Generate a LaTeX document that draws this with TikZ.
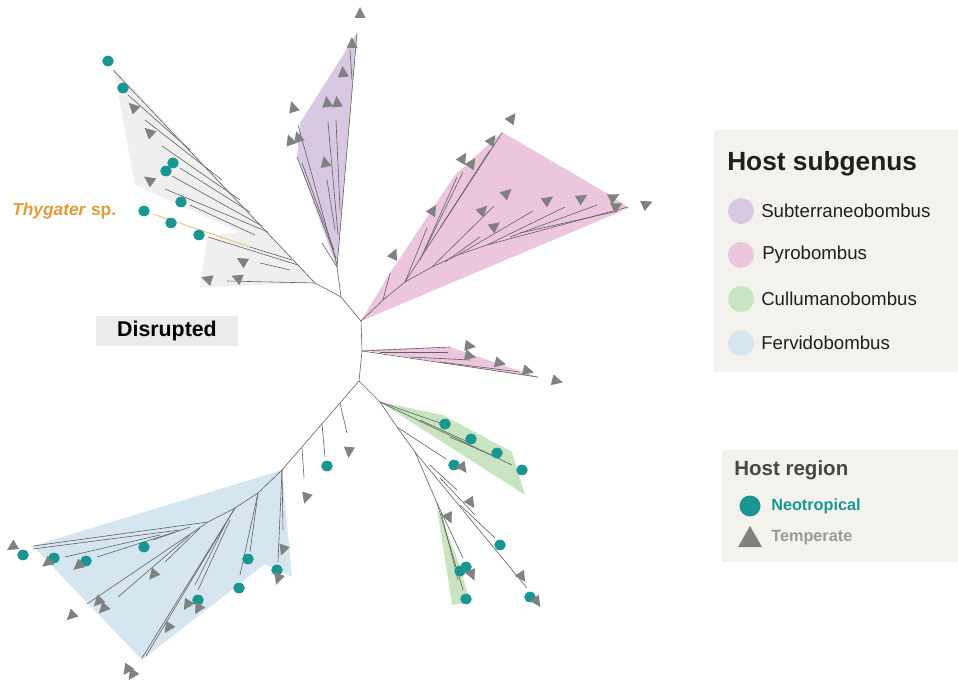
\documentclass[tikz,border=0pt]{standalone}
\usepackage{fontspec}
\setmainfont{Liberation Sans}
\definecolor{teal1}{RGB}{26,150,146}
\definecolor{trigray}{RGB}{128,129,129}
\definecolor{grayfill}{RGB}{239,239,239}
\definecolor{purplefill}{RGB}{216,200,226}
\definecolor{pinkfill}{RGB}{236,198,221}
\definecolor{greenfill}{RGB}{200,228,192}
\definecolor{bluefill}{RGB}{213,230,241}
\definecolor{legbg}{RGB}{243,242,236}
\definecolor{orangetxt}{RGB}{227,155,58}
\definecolor{orangeline}{RGB}{240,200,140}
\definecolor{dispbox}{RGB}{235,235,235}
\newcommand\tri[2]{\pgfmathsetmacro\tang{atan2(330-#2,#1-360)}\fill[trigray,shift={(#1,#2)},rotate=\tang] (6,0)--(-5,5.5)--(-5,-5.5)--cycle;}
\newcommand\tdot[2]{\fill[teal1] (#1,#2) ellipse [x radius=5.8, y radius=5.3];}
\tikzset{tl/.style={draw=black!62,line width=0.45pt},
  legtxt/.style={anchor=west,inner sep=0pt,font=\fontsize{14}{16}\selectfont,text=black!88}}
\begin{document}
\begin{tikzpicture}[x=0.75pt,y=-0.75pt]
\useasboundingbox (0,0) rectangle (958,681);
% clade hulls
\fill[grayfill] (113,66) -- (135,185) -- (240,232) -- (207,238) -- (200,287) -- (315,283) -- cycle;
\fill[purplefill] (357,33) -- (300,123) -- (297,157) -- (337,268) -- cycle;
\fill[pinkfill] (361,321) -- (390,273) -- (455,175) -- (502,132) -- (610,195) -- (629,208) -- cycle;
\fill[pinkfill] (362,350) -- (450,347) -- (540,378) -- cycle;
\fill[greenfill] (380,402) -- (443,415) -- (512,452) -- (525,495) -- cycle;
\fill[greenfill] (437,508) -- (458,560) -- (470,602) -- (452,605) -- cycle;
\fill[bluefill] (282,470) -- (33,546) -- (142,660) -- (265,564) -- (292,577) -- cycle;
% Disrupted label
\node[fill=dispbox,minimum width=106.5pt,minimum height=22.5pt,inner sep=0pt,font=\bfseries\fontsize{16}{18}\selectfont] (disr) at (167,331) {Disrupted};
\node[anchor=west,inner sep=0pt,text=orangetxt,font=\bfseries\fontsize{13}{15}\selectfont] (thy) at (12,211) {\itshape Thygater\/ \upshape sp.};
% backbone
\draw[tl] (359,381) -- (362,351) -- (361,321) -- (341,297) -- (315,283);
\draw[tl] (341,297) -- (337,267) -- (322,243);
% purple
\draw[tl] (337,267) -- (357,33);
\draw[tl] (337,265) -- (298,125);
\draw[tl] (336,258) -- (297,157);
\draw[tl] (334,250) -- (302,163);
\draw[tl] (338,235) -- (328,122);
\draw[tl] (340,210) -- (336,120);
\draw[tl] (335,230) -- (327,180);
\draw[tl] (352,80) -- (350,50);
% gray (disrupted)
\draw[tl] (315,283) -- (113,70);
\draw[tl] (315,283) -- (227,281);
\draw[tl] (290,270) -- (260,263);
\draw[tl] (298,265) -- (208,237);
\draw[tl] (292,260) -- (250,247);
\draw[draw=orangeline,line width=0.8pt] (250,247) -- (153,214);
\draw[tl] (268,232) -- (165,189);
\draw[tl] (262,226) -- (172,176);
\draw[tl] (250,212) -- (180,168);
\draw[tl] (240,200) -- (162,146);
\draw[tl] (222,180) -- (145,120);
\draw[tl] (190,150) -- (128,95);
\draw[tl] (255,235) -- (190,205);
% pink
\draw[tl] (361,321) -- (383,300) -- (405,282) -- (502,133);
\draw[tl] (383,300) -- (390,273);
\draw[tl] (405,282) -- (427,228);
\draw[tl] (420,260) -- (457,177);
\draw[tl] (425,250) -- (463,172);
\draw[tl] (440,228) -- (490,150);
\draw[tl] (405,282) -- (432,267) -- (458,255) -- (487,245) -- (628,207);
\draw[tl] (432,267) -- (494,206);
\draw[tl] (445,262) -- (480,237);
\draw[tl] (458,255) -- (533,211);
\draw[tl] (487,245) -- (565,207);
\draw[tl] (510,237) -- (597,205);
\draw[tl] (520,233) -- (618,211);
% lower pink
\draw[tl] (362,351) -- (450,347);
\draw[tl] (362,351) -- (538,377);
\draw[tl] (380,352) -- (448,352);
\draw[tl] (410,357) -- (470,360);
\draw[tl] (440,362) -- (520,372);
% green and relatives
\draw[tl] (359,381) -- (380,402);
\draw[tl] (380,402) -- (512,465);
\draw[tl] (380,402) -- (440,423);
\draw[tl] (420,420) -- (470,443);
\draw[tl] (450,437) -- (498,458);
\draw[tl] (380,402) -- (397,427) -- (415,452) -- (437,503) -- (463,590);
\draw[tl] (397,427) -- (446,459);
\draw[tl] (415,452) -- (527,588);
\draw[tl] (430,465) -- (457,490);
\draw[tl] (440,478) -- (475,515);
\draw[tl] (460,505) -- (495,538);
\draw[tl] (437,503) -- (463,558);
\draw[tl] (441,512) -- (458,580);
% fervido
\draw[tl] (359,381) -- (282,470);
\draw[tl] (340,403) -- (347,433);
\draw[tl] (322,424) -- (325,457);
\draw[tl] (302,448) -- (304,478);
\draw[tl] (282,470) -- (283,530);
\draw[tl] (282,470) -- (278,562);
\draw[tl] (282,470) -- (258,493) -- (235,508) -- (208,522) -- (33,546);
\draw[tl] (258,493) -- (240,575);
\draw[tl] (258,493) -- (250,552);
\draw[tl] (235,508) -- (142,658);
\draw[tl] (235,508) -- (146,656);
\draw[tl] (230,520) -- (198,590);
\draw[tl] (225,525) -- (195,585);
\draw[tl] (208,522) -- (87,604);
\draw[tl] (190,535) -- (118,597);
\draw[tl] (200,528) -- (165,562);
\draw[tl] (180,530) -- (33,549);
\draw[tl] (160,535) -- (65,557);
\draw[tl] (175,532) -- (97,557);
\draw[tl] (190,527) -- (153,540);
% teal dots
\tdot{108}{61}\tdot{123}{88}\tdot{173}{163}\tdot{166}{171}\tdot{181}{202}\tdot{144}{211}\tdot{171}{223}\tdot{199}{235}
\tdot{445}{424}\tdot{471}{439}\tdot{497}{453}\tdot{522}{470}\tdot{454}{465}\tdot{460}{571}\tdot{466}{567}\tdot{466}{599}\tdot{500}{545}\tdot{530}{597}
\tdot{23}{555}\tdot{54}{558}\tdot{86}{561}\tdot{144}{547}\tdot{248}{559}\tdot{239}{588}\tdot{198}{600}\tdot{277}{570}\tdot{327}{466}
% triangles
\tri{133}{107}\tri{149}{132}\tri{149}{180}\tri{242}{261}\tri{237}{278}\tri{207}{279}
\tri{360}{13}\tri{352}{43}\tri{343}{72}\tri{327}{102}\tri{337}{102}\tri{293}{107}\tri{290}{140}\tri{298}{137}\tri{325}{162}
\tri{512}{118}\tri{492}{140}\tri{463}{158}\tri{472}{163}\tri{507}{193}\tri{433}{210}\tri{483}{210}\tri{495}{226}\tri{548}{200}\tri{582}{198}\tri{614}{197}\tri{617}{206}\tri{647}{204}\tri{394}{254}
\tri{470}{346}\tri{470}{356}\tri{500}{363}\tri{528}{371}\tri{557}{381}
\tri{463}{468}\tri{471}{503}\tri{449}{518}\tri{522}{577}\tri{537}{602}\tri{472}{575}
\tri{12}{547}\tri{47}{563}\tri{78}{566}\tri{153}{575}\tri{98}{602}\tri{103}{609}\tri{71}{616}\tri{187}{605}\tri{198}{609}\tri{168}{628}\tri{283}{550}\tri{278}{579}\tri{127}{670}\tri{132}{675}\tri{349}{452}\tri{306}{498}
% legend: host subgenus
\fill[legbg] (714,130) rectangle (958,372);
\node[anchor=west,inner sep=0pt,text=black!88,font=\bfseries\fontsize{19.7}{22}\selectfont] (lt1) at (727,164) {Host subgenus};
\fill[purplefill] (741,211) circle [radius=13];
\fill[pinkfill] (741,255) circle [radius=13];
\fill[greenfill] (741,299) circle [radius=13];
\fill[bluefill] (741,343) circle [radius=13];
\node[legtxt] (l1) at (761,211) {Subterraneobombus};
\node[legtxt] (l2) at (762,255) {Pyrobombus};
\node[legtxt] (l3) at (761,299) {Cullumanobombus};
\node[legtxt] (l4) at (761,343) {Fervidobombus};
% legend: host region
\fill[legbg] (722,450) rectangle (958,562);
\node[anchor=west,inner sep=0pt,text=black!72,font=\bfseries\fontsize{15.4}{18}\selectfont] (lt2) at (734,470) {Host region};
\fill[teal1] (750,506) circle [radius=10.5];
\fill[trigray] (750,526) -- (762,547) -- (738,547) -- cycle;
\node[anchor=west,inner sep=0pt,text=teal1,font=\bfseries\fontsize{12.2}{14}\selectfont] (lr1) at (771,506) {Neotropical};
\node[anchor=west,inner sep=0pt,text=black!40,font=\bfseries\fontsize{12.2}{14}\selectfont] (lr2) at (771,538) {Temperate};
\end{tikzpicture}
\end{document}
